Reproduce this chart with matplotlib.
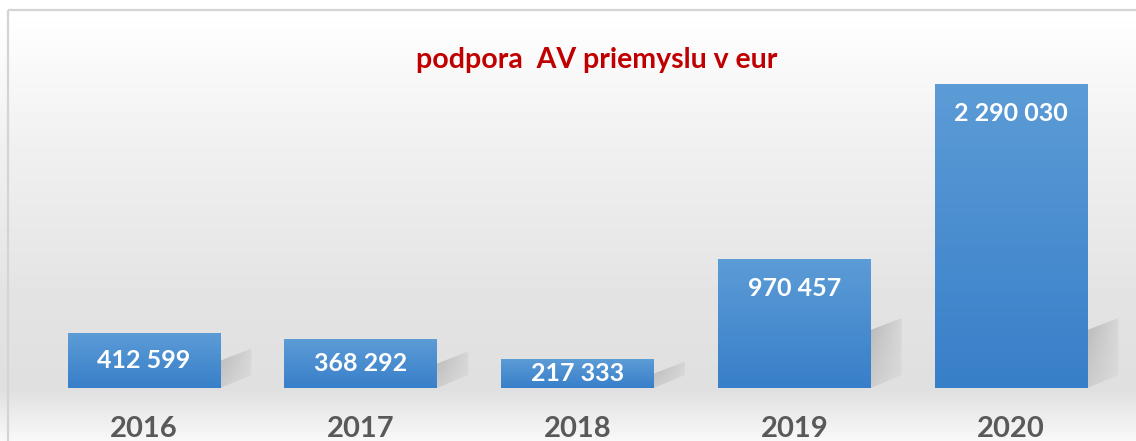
import numpy as np
import matplotlib
matplotlib.use("Agg")
import matplotlib.pyplot as plt
from matplotlib.patches import Polygon, Rectangle

years = ["2016", "2017", "2018", "2019", "2020"]
values = [412599, 368292, 217333, 970457, 2290030]
title = "podpora  AV priemyslu v eur"

W, H = 1136, 441
fig = plt.figure(figsize=(W / 100, H / 100), dpi=100)
plt.rcParams['font.family'] = ['Lato', 'DejaVu Sans']

# background: white at the top, grey floor around the bar bases, lighter below
bg = fig.add_axes([0, 0, 1, 1], zorder=-2)
ys = np.arange(H)
grey = np.interp(ys, [0, 10, 150, 300, 388, 441], [1.0, 1.0, 0.94, 0.89, 0.875, 0.975])
img = np.repeat(grey[:, None], 2, axis=1)
bg.imshow(img, cmap="gray", vmin=0, vmax=1, extent=[0, W, H, 0], aspect="auto")
bg.add_patch(Rectangle((7.5, 9.5), W, H, fill=False, edgecolor="#d4d4d4", lw=1.6))
bg.set_xlim(0, W)
bg.set_ylim(H, 0)
bg.axis("off")

ax = fig.add_axes([35.6 / W, 1 - 388 / H, (1119.4 - 35.6) / W, 358.4 / H])
ax.patch.set_alpha(0)
ymax = 2.7e6
ax.set_xlim(-0.5, 4.5)
ax.set_ylim(0, ymax)
px = ymax / 358.4  # data units per pixel
bw = 0.705

x = np.arange(len(years))
bars = ax.bar(x, values, width=bw, color="none", edgecolor="none", zorder=3)

blue = np.array([[0.36, 0.61, 0.84], [0.22, 0.50, 0.79]])
grad = np.linspace(0, 1, 64)[:, None]
bar_img = blue[0] * (1 - grad[..., None]) + blue[1] * grad[..., None]

for b, v in zip(bars, values):
    x0 = b.get_x()
    xr = x0 + b.get_width()
    # soft shadow to the right of each bar
    s = min(v * 0.5, 58 * px)
    rise = 12 * px
    dx = 31 / 216.75
    pts = [(xr, 0), (xr, s), (xr + dx, s + rise), (xr + dx, 13 * px)]
    sh = Polygon(pts, closed=True, transform=ax.transData, facecolor="none",
                 edgecolor="none")
    ax.add_patch(sh)
    u = np.linspace(0, 1, 40)[None, :]
    w = np.linspace(0, 1, 40)[:, None]
    alpha = 0.42 * (1 - 0.75 * u) * (0.45 + 0.55 * w)
    rgba = np.zeros((40, 40, 4))
    rgba[..., :3] = 0.5
    rgba[..., 3] = alpha
    im = ax.imshow(rgba, extent=[xr, xr + dx, 0, s + rise], origin="lower",
                   aspect="auto", zorder=2)
    im.set_clip_path(sh)
    # gradient fill of the bar
    im2 = ax.imshow(bar_img, extent=[x0, xr, 0, v], origin="upper",
                    aspect="auto", zorder=3)
    im2.set_clip_path(b)
    # value label
    off = min(29 * px, v / 2)
    ax.text(b.get_x() + b.get_width() / 2, v - off, f"{v:,}".replace(",", " "),
            ha="center", va="center", color="white", fontsize=18,
            fontweight="bold", zorder=4)

ax.set_xlim(-0.5, 4.5)
ax.set_ylim(0, ymax)
ax.set_xticks(x, years)
ax.tick_params(axis="x", length=0, pad=20, labelsize=21, labelcolor="#595959")
for t in ax.get_xticklabels():
    t.set_fontweight("bold")
ax.set_yticks([])
for sp in ax.spines.values():
    sp.set_visible(False)

fig.text(597 / W, 1 - 60 / H, title, ha="center", va="center", color="#c00000",
         fontsize=20.5, fontweight="bold")

fig.savefig("out.png", dpi=100)
